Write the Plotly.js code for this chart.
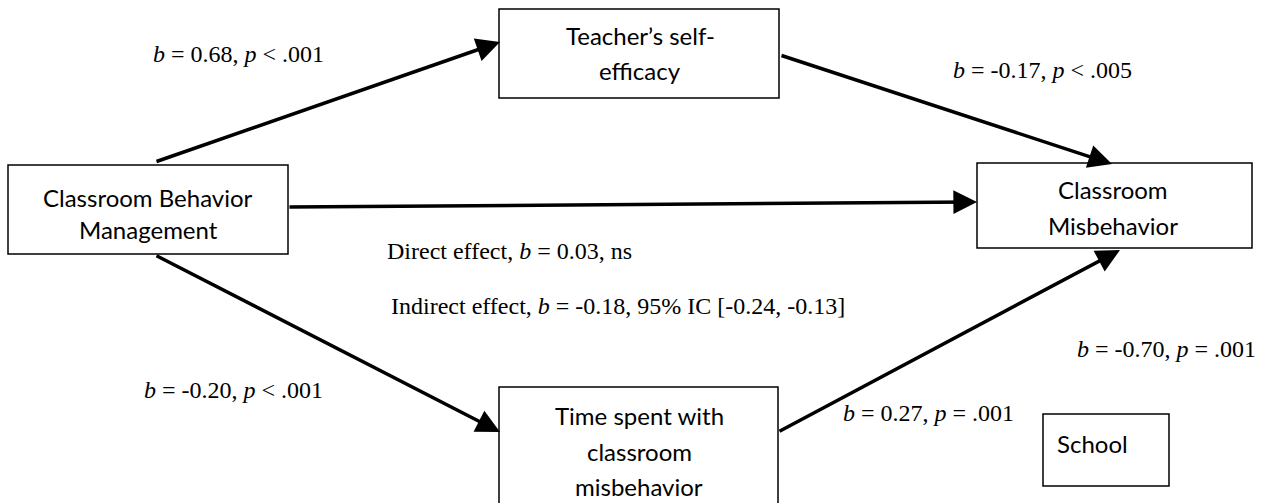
<!DOCTYPE html>
<html><head><meta charset="utf-8">
<script src="https://cdn.plot.ly/plotly-3.0.1.min.js"></script>
<style>html,body{margin:0;padding:0;background:#fff}</style>
</head><body><div id="chart" style="width:1265px;height:503px"></div>
<script>
// Node labels (one entry per text line)
const nodeLabels = [
  ["Classroom Behavior", "Management"],
  ["Teacher’s self-", "efficacy"],
  ["Classroom", "Misbehavior"],
  ["Time spent with", "classroom", "misbehavior"],
  ["School"]
];
// Path coefficient labels
const pathLabels = [
  "<i>b</i> = 0.68, <i>p</i> < .001",
  "<i>b</i> = -0.17, <i>p</i> < .005",
  "Direct effect, <i>b</i> = 0.03, ns",
  "Indirect effect, <i>b</i> = -0.18, 95% IC [-0.24, -0.13]",
  "<i>b</i> = -0.20, <i>p</i> < .001",
  "<i>b</i> = 0.27, <i>p</i> = .001",
  "<i>b</i> = -0.70, <i>p</i> = .001"
];

// layout geometry (pixel-like coordinates)
const boxX0 = [8, 499, 977, 499, 1043];
const boxX1 = [288, 779, 1252, 778, 1169];
const boxY0 = [165, 9, 163, 387, 414];
const boxY1 = [254, 98, 248, 520, 486];
const textX = [148, 640, 1113, 639, 1092];
const lineY = [[197, 229], [35, 70], [189, 225], [415, 451, 486], [443]];

const arrowFrom = [[155,162],[780,55],[288,207],[155,255],[778,432]];
const arrowTo   = [[500,42],[1112,164],[977,202],[500,432],[1120,250]];

const labX = [238, 1042, 509, 618, 233, 928, 1166];
const labY = [54, 70, 251, 306, 390, 413, 349];

const shapes = [];
const annotations = [];
for (let i = 0; i < nodeLabels.length; i++) {
  shapes.push({type:'rect', xref:'x', yref:'y', x0:boxX0[i], x1:boxX1[i], y0:boxY0[i], y1:boxY1[i],
    line:{color:'#000', width:1.5}, fillcolor:'rgba(0,0,0,0)'});
  nodeLabels[i].forEach((t, j) => {
    annotations.push({xref:'x', yref:'y', x:textX[i], y:lineY[i][j], text:t, showarrow:false,
      font:{family:'Lato, "Open Sans", sans-serif', size:24, color:'#000'}, align:'center', xanchor:'center', yanchor:'middle'});
  });
}
for (let i = 0; i < arrowFrom.length; i++) {
  annotations.push({xref:'x', yref:'y', axref:'x', ayref:'y', x:arrowTo[i][0], y:arrowTo[i][1],
    ax:arrowFrom[i][0], ay:arrowFrom[i][1], text:'', showarrow:true, arrowhead:2, arrowsize:1.35,
    arrowwidth:3.5, arrowcolor:'#000', standoff:0, startstandoff:0});
}
for (let i = 0; i < pathLabels.length; i++) {
  annotations.push({xref:'x', yref:'y', x:labX[i], y:labY[i], text:pathLabels[i], showarrow:false,
    font:{family:'"Liberation Serif", "Times New Roman", serif', size:24, color:'#000'}, xanchor:'center', yanchor:'middle'});
}

Plotly.newPlot('chart', [{x:[], y:[], type:'scatter', mode:'markers', showlegend:false, hoverinfo:'skip'}], {
  width:1265, height:503, margin:{l:0,r:0,t:0,b:0},
  paper_bgcolor:'#fff', plot_bgcolor:'#fff',
  xaxis:{range:[0,1265], visible:false, fixedrange:true},
  yaxis:{range:[503,0], visible:false, fixedrange:true},
  shapes:shapes, annotations:annotations, showlegend:false
}, {staticPlot:true});
</script></body></html>
